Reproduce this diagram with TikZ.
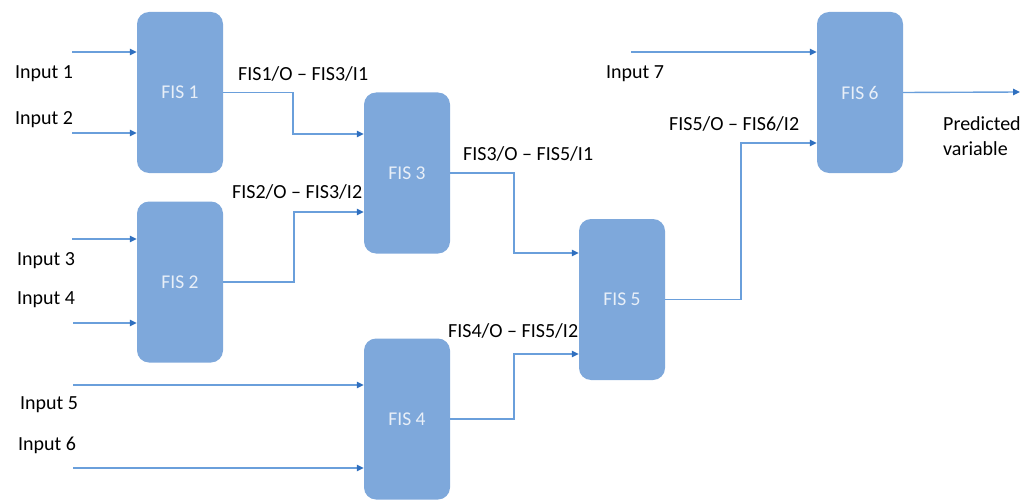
\documentclass[tikz,border=0pt]{standalone}
\usepackage{fontspec}
\setmainfont{Carlito}
\usetikzlibrary{arrows.meta,calc}
\definecolor{boxfill}{HTML}{7EA8DB}
\definecolor{boxtext}{HTML}{E8EFF8}
\definecolor{linec}{HTML}{6A9FDB}
\definecolor{tipc}{HTML}{2F6FBF}
\begin{document}
\begin{tikzpicture}[x=1pt,y=-1pt,
  fisbox/.style={rectangle,rounded corners=12pt,fill=boxfill,draw=none,
    minimum width=86pt,minimum height=161pt,inner sep=0pt,
    text=boxtext,font=\fontsize{19.5}{22}\selectfont},
  conn/.style={draw=linec,line width=1.4pt,
    -{Triangle[length=7pt,width=6.5pt,color=tipc]}},
  lbl/.style={anchor=west,inner sep=0pt,yshift=-1.5pt,text=black,font=\fontsize{20}{24}\selectfont},
]
\useasboundingbox (0,0) rectangle (1033,500);
% boxes
\node[fisbox] (f1) at (180,92.5) {FIS 1};
\node[fisbox] (f2) at (180,282) {FIS 2};
\node[fisbox] (f3) at (407,173) {FIS 3};
\node[fisbox] (f4) at (407,419) {FIS 4};
\node[fisbox] (f5) at (622,299.5) {FIS 5};
\node[fisbox] (f6) at (860,92.5) {FIS 6};
% free ends of inputs
\coordinate (i1) at (72,52);
\coordinate (i2) at (72,133);
\coordinate (i3) at (72,239);
\coordinate (i4) at (73,323);
\coordinate (i5) at (73,385);
\coordinate (i6) at (73,468);
\coordinate (i7) at (631,52);
\coordinate (out) at (1020,92);
% input connectors
\draw[conn] (i1) -- (i1 -| f1.west);
\draw[conn] (i2) -- (i2 -| f1.west);
\draw[conn] (i3) -- (i3 -| f2.west);
\draw[conn] (i4) -- (i4 -| f2.west);
\draw[conn] (i5) -- (i5 -| f4.west);
\draw[conn] (i6) -- (i6 -| f4.west);
\draw[conn] (i7) -- (i7 -| f6.west);
% internal connectors
\draw[conn] (f1.east) -- (293,92.5) |- ([yshift=39pt]f3.west);
\draw[conn] (f2.east) -- (294,282) |- ([yshift=-39pt]f3.west);
\draw[conn] (f3.east) -- (514,173) |- ([yshift=46.5pt]f5.west);
\draw[conn] (f4.east) -- (514,419) |- ([yshift=-54.5pt]f5.west);
\draw[conn] (f5.east) -- (741,299.5) |- ([yshift=-50.5pt]f6.west);
\draw[conn] (f6.east) -- (out);
% labels
\node[lbl] (t1) at (15,72) {Input 1};
\node[lbl] (t2) at (15,118) {Input 2};
\node[lbl] (t3) at (17,259) {Input 3};
\node[lbl] (t4) at (17,298) {Input 4};
\node[lbl] (t5) at (20,403) {Input 5};
\node[lbl] (t6) at (18,444) {Input 6};
\node[lbl] (t7) at (606,72) {Input 7};
\node[lbl] (e13) at (238,72) {FIS1/O – FIS3/I1};
\node[lbl] (e23) at (232,190) {FIS2/O – FIS3/I2};
\node[lbl] (e35) at (463,152) {FIS3/O – FIS5/I1};
\node[lbl] (e45) at (448,329) {FIS4/O – FIS5/I2};
\node[lbl] (e56) at (669,122) {FIS5/O – FIS6/I2};
\node[lbl,align=left,font=\fontsize{20}{25}\selectfont] (pv) at (943,134.5) {Predicted\\variable};
\end{tikzpicture}
\end{document}
